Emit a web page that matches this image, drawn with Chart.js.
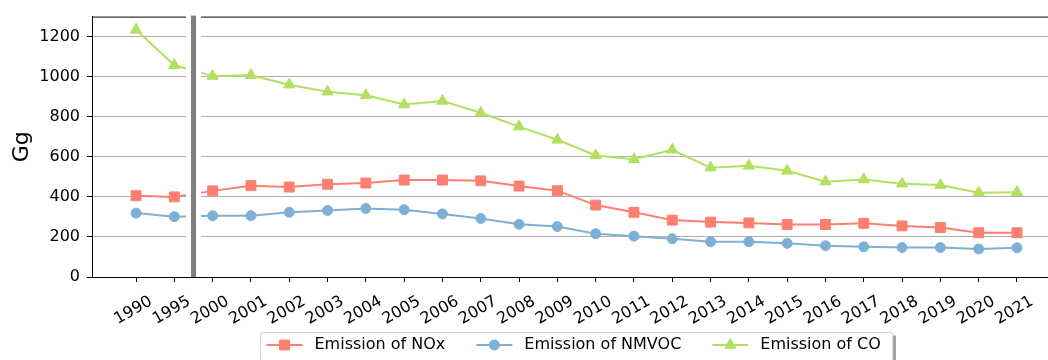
<!DOCTYPE html>
<html>
<head>
<meta charset="utf-8">
<script src="https://cdn.jsdelivr.net/npm/chart.js@4"></script>
<style>
    html, body { margin: 0; padding: 0; background: #fff; overflow: hidden; }
</style>
</head>
<body>
<canvas id="emissionsChart" width="1048" height="360"></canvas>
<script>
// Values (Gg)
const years = ['1990', '1995', '2000', '2001', '2002', '2003', '2004', '2005', '2006', '2007', '2008', '2009',
    '2010', '2011', '2012', '2013', '2014', '2015', '2016', '2017', '2018', '2019', '2020', '2021'];
const noxValues = [406, 400, 430, 456, 449, 463, 469, 484, 484, 480, 454, 431,
    359, 323, 284, 274, 270, 262, 262, 268, 255, 247, 221, 221];
const nmvocValues = [319, 301, 306, 306, 323, 332, 342, 336, 315, 292, 263, 252,
    216, 204, 191, 176, 176, 168, 156, 151, 147, 147, 140, 146];
const coValues = [1234, 1057, 1003, 1007, 960, 925, 907, 861, 879, 820, 751, 685,
    607, 588, 635, 546, 555, 530, 476, 487, 466, 459, 421, 423];
const yTicks = [0, 200, 400, 600, 800, 1000, 1200];

const seriesNames = ['Emission of NOx', 'Emission of NMVOC', 'Emission of CO'];
const seriesColors = ['#fd7f6f', '#7eb0d5', '#b2e061'];
const seriesMarkers = ['rect', 'circle', 'triangle'];
const markerRadius = [7, 5, 6.5];
const seriesValues = [noxValues, nmvocValues, coValues];

const FONT = 'DejaVu Sans';
Chart.defaults.font.family = FONT;
Chart.defaults.color = '#000';

// axis break between 1995 and 2000, plus the top spine
const breakPlugin = {
    id: 'axisBreak',
    afterDatasetsDraw(chart) {
        const { ctx, chartArea, scales } = chart;
        const bx = scales.x.getPixelForValue(1.5);
        ctx.save();
        ctx.strokeStyle = '#000';
        ctx.lineWidth = 1;
        ctx.beginPath();
        ctx.moveTo(chartArea.left, chartArea.top + 0.5);
        ctx.lineTo(chartArea.right, chartArea.top + 0.5);
        ctx.stroke();
        ctx.fillStyle = '#fff';
        ctx.fillRect(bx - 7.5, chartArea.top - 1, 15, chartArea.bottom - chartArea.top);
        ctx.fillStyle = '#808080';
        ctx.fillRect(bx - 2.5, chartArea.top - 1, 5, chartArea.bottom - chartArea.top + 1);
        ctx.restore();
    },
};

// matplotlib-like legend box under the axes
const legendPlugin = {
    id: 'boxLegend',
    afterDraw(chart) {
        const { ctx, scales } = chart;
        const center = scales.x.getPixelForValue((years.length - 1) / 2);
        ctx.save();
        ctx.font = '16px "' + FONT + '"';
        const widths = seriesNames.map((n) => ctx.measureText(n).width);
        const sample = 36, gapText = 12, gapItem = 31, padL = 6, padR = 12;
        const total = padL + widths.reduce((a, w) => a + sample + gapText + w, 0) + gapItem * 2 + padR;
        const left = Math.round(center - total / 2) + 0.5;
        const top = 332.5;
        const h = 32;

        ctx.fillStyle = '#9a9a9a';
        ctx.fillRect(left + 3, top + 3, total, h);
        ctx.fillStyle = '#fff';
        ctx.strokeStyle = '#d0d0d0';
        ctx.lineWidth = 1;
        ctx.beginPath();
        ctx.roundRect(left, top, total, h, 3);
        ctx.fill();
        ctx.stroke();

        const cy = 345;
        let x = left + padL;
        seriesNames.forEach((name, i) => {
            ctx.strokeStyle = seriesColors[i];
            ctx.fillStyle = seriesColors[i];
            ctx.lineWidth = 2;
            ctx.beginPath();
            ctx.moveTo(x, cy);
            ctx.lineTo(x + sample, cy);
            ctx.stroke();
            ctx.lineWidth = 1;
            Chart.helpers.drawPoint(ctx, {
                pointStyle: seriesMarkers[i],
                radius: markerRadius[i],
                rotation: 0,
                borderWidth: 1,
            }, x + sample / 2, cy);
            x += sample + gapText;
            ctx.fillStyle = '#000';
            ctx.textBaseline = 'middle';
            ctx.textAlign = 'left';
            ctx.fillText(name, x, cy);
            x += widths[i] + gapItem;
        });
        ctx.restore();
    },
};

const ctx = document.getElementById('emissionsChart').getContext('2d');
new Chart(ctx, {
    type: 'line',
    data: {
        datasets: seriesNames.map((name, i) => ({
            label: name,
            data: seriesValues[i].map((v, idx) => ({ x: idx, y: v })),
            borderColor: seriesColors[i],
            backgroundColor: seriesColors[i],
            borderWidth: 2,
            pointStyle: seriesMarkers[i],
            pointRadius: markerRadius[i],
            pointBorderWidth: 1,
            pointBorderColor: seriesColors[i],
            pointBackgroundColor: seriesColors[i],
            tension: 0,
        })),
    },
    options: {
        responsive: false,
        animation: false,
        layout: { autoPadding: false, padding: { top: 16, right: 0, bottom: 0, left: 0 } },
        plugins: {
            legend: { display: false },
            tooltip: { enabled: false },
        },
        scales: {
            x: {
                type: 'linear',
                min: -1.15,
                max: 23.81,
                afterBuildTicks: (axis) => {
                    axis.ticks = years.map((_, i) => ({ value: i }));
                },
                afterFit: (axis) => {
                    axis.height = 83;
                    axis.paddingLeft = 0;
                    axis.paddingRight = 0;
                },
                ticks: {
                    callback: (value) => years[value] ?? '',
                    autoSkip: false,
                    minRotation: 30,
                    maxRotation: 30,
                    labelOffset: 15,
                    padding: 10,
                    color: '#000',
                    font: { size: 16 },
                },
                grid: { drawOnChartArea: false, tickLength: 5, tickColor: '#000' },
                border: { color: '#000', width: 1 },
            },
            y: {
                min: 0,
                max: 1300,
                afterBuildTicks: (axis) => {
                    axis.ticks = yTicks.map((v) => ({ value: v }));
                },
                afterFit: (axis) => { axis.width = 92; },
                ticks: {
                    callback: (value) => String(value),
                    color: '#000',
                    padding: 7,
                    font: { size: 16 },
                },
                grid: { color: '#b0b0b0', lineWidth: 1, tickLength: 5, tickColor: '#000' },
                border: { color: '#000', width: 1 },
                title: {
                    display: true,
                    text: 'Gg',
                    color: '#000',
                    font: { size: 22 },
                    padding: { top: 9 },
                },
            },
        },
    },
    plugins: [breakPlugin, legendPlugin],
});
</script>
</body>
</html>
